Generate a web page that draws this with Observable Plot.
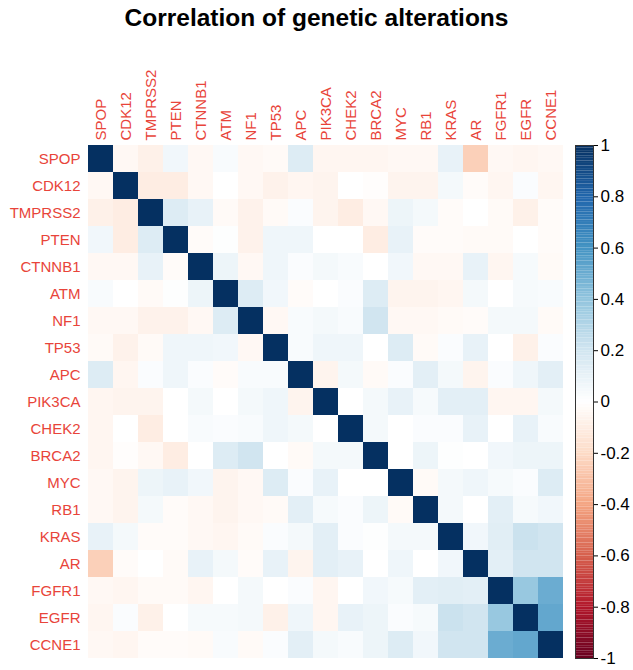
<!DOCTYPE html>
<html><head><meta charset="utf-8">
<script src="https://cdn.jsdelivr.net/npm/d3@7"></script>
<script src="https://cdn.jsdelivr.net/npm/@observablehq/plot@0.6"></script>
<style>
body{margin:0;background:#fff;font-family:"Liberation Sans",Arial,sans-serif;}
#wrap{position:relative;width:633px;height:670px;overflow:hidden;}
#title{position:absolute;left:0;top:0;width:633px;text-align:center;font-weight:bold;font-size:24.5px;line-height:36px;color:#000;}
#heat{position:absolute;left:0;top:36px;}
#bar{position:absolute;left:575px;top:36px;}
svg{overflow:visible;}
</style></head>
<body>
<div id="wrap"><div id="title">Correlation of genetic alterations</div><div id="heat"></div><div id="bar"></div></div>
<script>
const genes = ["SPOP","CDK12","TMPRSS2","PTEN","CTNNB1","ATM","NF1","TP53","APC","PIK3CA","CHEK2","BRCA2","MYC","RB1","KRAS","AR","FGFR1","EGFR","CCNE1"];
// lower triangle of the correlation matrix (row i, columns 0..i-1)
const lower = [
  [],
  [-0.04],
  [-0.08,-0.10],
  [0.06,-0.10,0.15],
  [-0.04,-0.04,0.10,-0.02],
  [0.03,0.00,-0.03,0.01,0.08],
  [-0.04,-0.04,-0.07,-0.07,-0.04,0.15],
  [-0.03,-0.07,-0.03,0.07,0.07,0.06,-0.04],
  [0.15,-0.05,0.02,0.07,0.02,-0.02,0.03,0.03],
  [-0.05,-0.06,-0.06,0.00,0.05,0.00,0.05,0.07,-0.06],
  [-0.05,0.00,-0.10,0.00,0.03,0.02,0.03,0.07,0.05,0.00],
  [-0.05,-0.01,-0.04,-0.10,0.00,0.15,0.20,0.00,-0.03,0.05,0.05],
  [-0.04,-0.06,0.08,0.10,0.06,-0.06,-0.04,0.15,0.02,0.10,0.00,0.00],
  [-0.04,-0.06,0.05,-0.02,-0.04,-0.06,-0.04,-0.03,0.12,0.04,0.02,0.08,-0.03],
  [0.10,0.05,-0.02,-0.02,-0.04,-0.05,-0.03,0.02,0.05,0.12,0.02,0.01,0.05,0.05],
  [-0.24,-0.02,0.00,-0.03,0.10,0.05,-0.02,0.10,-0.06,0.12,0.10,0.00,0.07,0.00,0.06],
  [-0.04,-0.05,-0.03,-0.03,-0.05,0.00,0.05,0.00,0.02,-0.05,0.00,0.06,0.04,0.12,0.13,0.12],
  [-0.05,0.02,-0.08,0.00,0.04,0.04,0.05,-0.08,0.07,-0.05,0.10,0.08,0.02,0.04,0.22,0.20,0.38],
  [-0.04,-0.05,-0.02,-0.02,-0.03,0.03,-0.03,0.02,0.12,0.05,0.03,0.08,0.15,0.06,0.20,0.20,0.50,0.52]
];
const colorTicks = [-1,-0.8,-0.6,-0.4,-0.2,0,0.2,0.4,0.6,0.8,1];
const colorStops = ["#67001F","#B2182B","#D6604D","#F4A582","#FDDBC7","#FFFFFF","#D1E5F0","#92C5DE","#4393C3","#2166AC","#053061"];

const cells = [];
genes.forEach((r, i) => genes.forEach((c, j) => {
  const v = i === j ? 1 : (j < i ? lower[i][j] : lower[j][i]);
  cells.push({row: r, col: c, v});
}));
const colorOpt = {type: "linear", domain: colorTicks, range: colorStops, clamp: true};
const labelRed = "#e8443a";

const heat = Plot.plot({
  width: 570, height: 634,
  marginTop: 109, marginBottom: 12, marginLeft: 86, marginRight: 5,
  style: {fontFamily: "'Liberation Sans', Arial, sans-serif", background: "white"},
  x: {type: "band", domain: genes, padding: 0, axis: null},
  y: {type: "band", domain: genes, padding: 0, axis: null},
  color: colorOpt,
  marks: [
    Plot.cell(cells, {x: "col", y: "row", fill: "v", inset: 0}),
    Plot.axisX({anchor: "top", tickSize: 0, tickPadding: 5, tickRotate: -90, fill: labelRed, fontSize: 15, label: null}),
    Plot.axisY({anchor: "left", tickSize: 0, tickPadding: 6, fill: labelRed, fontSize: 15, label: null})
  ]
});
document.getElementById("heat").appendChild(heat);

const ramp = d3.range(0, 200).map(i => ({a: -1 + i * 0.01, b: -1 + (i + 1) * 0.01}));
const bar = Plot.plot({
  width: 58, height: 634,
  marginTop: 109, marginBottom: 12, marginLeft: 0, marginRight: 40,
  style: {fontFamily: "'Liberation Sans', Arial, sans-serif", background: "transparent"},
  x: {domain: [0, 1], axis: null},
  y: {domain: [-1, 1], axis: null},
  color: colorOpt,
  marks: [
    Plot.rect(ramp, {x1: 0, x2: 1, y1: "a", y2: "b", fill: d => (d.a + d.b) / 2}),
    Plot.frame({stroke: "#333", strokeWidth: 1}),
    Plot.axisY({anchor: "right", ticks: colorTicks, tickSize: 4, tickPadding: 3, fontSize: 17, label: null,
      tickFormat: d => String(+d.toFixed(1))})
  ]
});
document.getElementById("bar").appendChild(bar);
</script>
</body></html>
